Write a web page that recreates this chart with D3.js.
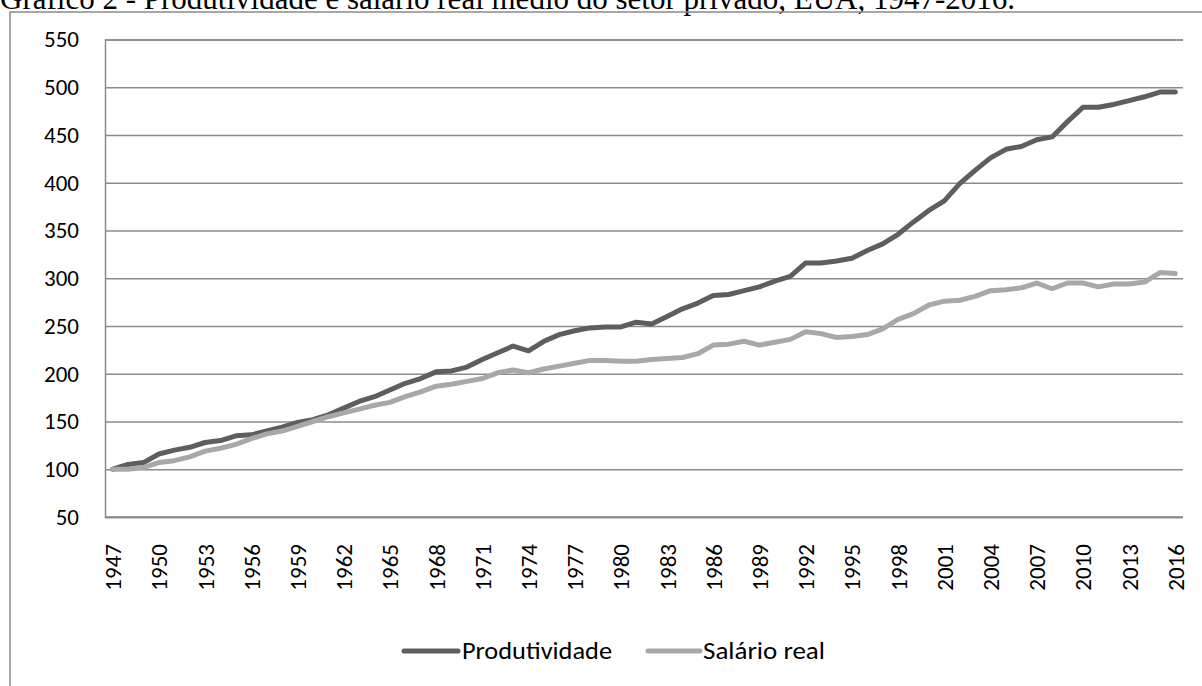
<!DOCTYPE html>
<html><head><meta charset="utf-8">
<script src="https://cdn.jsdelivr.net/npm/d3@7"></script>
<style>
html,body{margin:0;padding:0;background:#fff;}
svg{display:block;}
</style></head>
<body>
<svg id="chart" width="1202" height="686"></svg>
<script>
const years = d3.range(1947, 2017);
const produtividade = [100,105,107,116,120,123,128,130,135,136,140,144,149,152,157,164,171,176,183,190,195,202,203,207,215,222,229,224,234,241,245,248,249,249,254,252,260,268,274,282,283,287,291,297,302,316,316,318,321,329,336,346,359,371,381,399,413,426,435,438,445,448,464,479,479,482,486,490,495,495];
const salarioReal = [100,100,102,107,109,113,119,122,126,132,137,140,145,150,155,159,163,167,170,176,181,187,189,192,195,201,204,201,205,208,211,214,214,213,213,215,216,217,221,230,231,234,230,233,236,244,242,238,239,241,247,257,263,272,276,277,281,287,288,290,295,289,295,295,291,294,294,296,306,305];
const yTicks = [50,100,150,200,250,300,350,400,450,500,550];
const xTickYears = years.filter(y => (y - 1947) % 3 === 0);
const seriesNames = ["Produtividade", "Salário real"];
const seriesColors = ["#5e5e5e", "#a8a8a8"];
const title = "Gráfico 2 - Produtividade e salário real médio do setor privado, EUA, 1947-2016.";

const svg = d3.select("#chart");
const font = "Calibri, Carlito, Lato, sans-serif";
const L = 105, R = 1183, T = 39.5, B = 517;

// title (cut off at top, as in the reference)
svg.append("text").attr("x", 0).attr("y", 9)
  .attr("font-family", "'Liberation Serif', 'Times New Roman', serif")
  .attr("font-size", 31).attr("fill", "#000").text(title);

// outer frame
svg.append("rect").attr("x", 10).attr("y", 12).attr("width", 1300).attr("height", 800)
  .attr("fill", "none").attr("stroke", "#8a8a8a").attr("stroke-width", 1.5);

const x = d3.scalePoint().domain(years).range([L, R]).padding(0.5);
const y = d3.scaleLinear().domain([50, 550]).range([B, T]);

const yAxis = d3.axisLeft(y).tickValues(yTicks).tickSize(-(R - L)).tickPadding(26);
const gy = svg.append("g").attr("transform", `translate(${L},0)`).call(yAxis);
gy.select(".domain").attr("stroke", "#8a8a8a").attr("stroke-width", 1.5);
gy.selectAll(".tick line").attr("stroke", "#8c8c8c").attr("stroke-width", 1.3);
gy.selectAll(".tick text").attr("font-family", font).attr("font-size", 23).attr("fill", "#000");

const xAxis = d3.axisBottom(x).tickValues(xTickYears).tickSize(0).tickPadding(0);
const gx = svg.append("g").attr("transform", `translate(0,${B})`).call(xAxis);
gx.select(".domain").remove();
gx.selectAll(".tick text")
  .attr("font-family", font).attr("font-size", 23).attr("fill", "#000")
  .attr("transform", "rotate(-90)")
  .attr("text-anchor", "end").attr("dy", "0.35em").attr("dx", 0)
  .attr("x", -27).attr("y", 0);
svg.append("line").attr("x1", L).attr("x2", R).attr("y1", B).attr("y2", B)
  .attr("stroke", "#8a8a8a").attr("stroke-width", 1.5);

const line = d3.line().x((d, i) => x(years[i])).y(d => y(d));
[produtividade, salarioReal].forEach((s, k) => {
  svg.append("path").datum(s).attr("d", line)
    .attr("fill", "none").attr("stroke", seriesColors[k]).attr("stroke-width", 5)
    .attr("stroke-linejoin", "round").attr("stroke-linecap", "round");
});

// legend
const legendItems = [{x1: 404, x2: 458, tx: 462, w: 150}, {x1: 648, x2: 700, tx: 703, w: 122}];
const ly = 651;
legendItems.forEach((it, k) => {
  svg.append("line").attr("x1", it.x1).attr("x2", it.x2).attr("y1", ly).attr("y2", ly)
    .attr("stroke", seriesColors[k]).attr("stroke-width", 5).attr("stroke-linecap", "round");
  svg.append("text").attr("x", it.tx).attr("y", ly).attr("dy", "0.35em")
    .attr("font-family", font).attr("font-size", 24).attr("fill", "#000")
    .attr("textLength", it.w).attr("lengthAdjust", "spacingAndGlyphs")
    .text(seriesNames[k]);
});
</script>
</body></html>
